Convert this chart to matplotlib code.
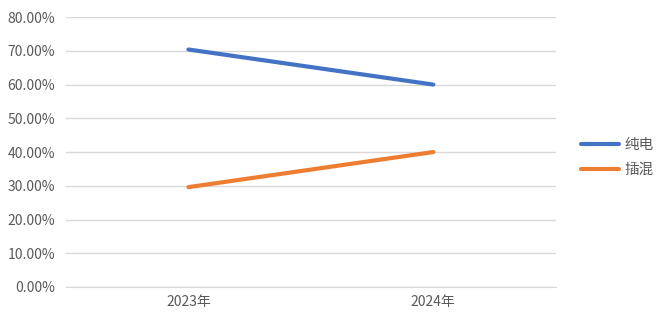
import matplotlib
matplotlib.use("Agg")
import matplotlib.pyplot as plt
from matplotlib.ticker import FuncFormatter

plt.rcParams['font.family'] = ['Noto Sans CJK SC', 'DejaVu Sans']

categories = ["2023年", "2024年"]
series_names = ["纯电", "插混"]
bev = [70.4, 60.0]
phev = [29.6, 40.0]
colors = ["#4472C4", "#ED7D31"]

fig = plt.figure(figsize=(6.6, 3.23), dpi=100)
ax = fig.add_axes([0.1, 0.1115, 0.742, 0.8355])

x = list(range(len(categories)))
ax.plot(x, bev, color=colors[0], lw=3, solid_capstyle='round', label=series_names[0])
ax.plot(x, phev, color=colors[1], lw=3, solid_capstyle='round', label=series_names[1])

ax.set_xlim(-0.5, len(categories) - 0.5)
ax.set_ylim(0, 80)
ax.set_yticks(range(0, 81, 10))
ax.yaxis.set_major_formatter(FuncFormatter(lambda v, p: f"{v:.2f}%"))
ax.set_xticks(x)
ax.set_xticklabels(categories)
ax.grid(axis='y', color='#D9D9D9', lw=1)
ax.set_axisbelow(True)
for s in ['top', 'right', 'left']:
    ax.spines[s].set_visible(False)
ax.spines['bottom'].set_color('#D9D9D9')
ax.tick_params(axis='both', length=0, colors='#595959', labelsize=10)
ax.tick_params(axis='y', pad=8)
ax.tick_params(axis='x', pad=6)

leg = ax.legend(loc='center left', bbox_to_anchor=(1.025, 0.48), frameon=False,
                fontsize=10.5, handlelength=2.6, labelcolor='#595959', handletextpad=0.4,
                labelspacing=0.75)

fig.savefig("out.png", dpi=100)
